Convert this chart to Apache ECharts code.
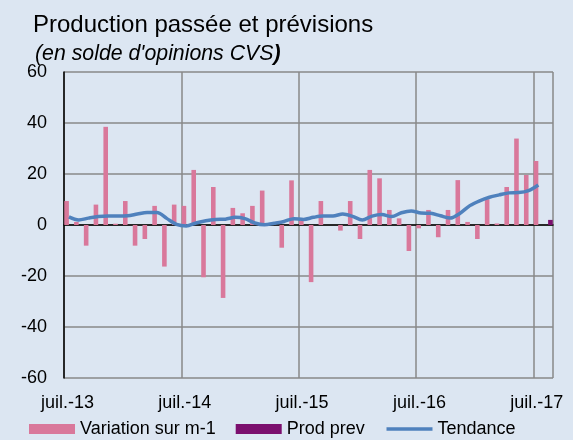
<!DOCTYPE html>
<html>
<head>
<meta charset="utf-8">
<script src="https://cdn.jsdelivr.net/npm/echarts@6/dist/echarts.min.js"></script>
<style>
html,body{margin:0;padding:0;background:#dce6f2;}
#c{width:573px;height:440px;}
</style>
</head>
<body>
<div id="c"></div>
<script>
// Monthly categories, juil.-13 .. août-17
const categories = ['juil.-13','août-13','sept.-13','oct.-13','nov.-13','déc.-13',
  'janv.-14','févr.-14','mars-14','avr.-14','mai-14','juin-14',
  'juil.-14','août-14','sept.-14','oct.-14','nov.-14','déc.-14',
  'janv.-15','févr.-15','mars-15','avr.-15','mai-15','juin-15',
  'juil.-15','août-15','sept.-15','oct.-15','nov.-15','déc.-15',
  'janv.-16','févr.-16','mars-16','avr.-16','mai-16','juin-16',
  'juil.-16','août-16','sept.-16','oct.-16','nov.-16','déc.-16',
  'janv.-17','févr.-17','mars-17','avr.-17','mai-17','juin-17',
  'juil.-17','août-17'];

const variation = [9.4, 1.2, -8.1, 8, 38.5, 0.5, 9.4, -8.1, -5.5, 7.5, -16.3, 8,
  7.5, 21.6, -20.5, 14.9, -28.6, 6.7, 4.6, 7.5, 13.5, 0, -8.9, 17.5,
  1.6, -22.4, 9.4, 0, -2.2, 9.4, -5.5, 21.6, 18.3, 5.9, 2.6, -10.2,
  -1.3, 5.9, -4.8, 5.9, 17.6, 1.2, -5.5, 10.1, 0.6, 14.9, 33.9, 19.6,
  25.1, null];

const prodPrev = [null, null, null, null, null, null, null, null, null, null, null, null,
  null, null, null, null, null, null, null, null, null, null, null, null,
  null, null, null, null, null, null, null, null, null, null, null, null,
  null, null, null, null, null, null, null, null, null, null, null, null,
  null, 2.0];

const tendance = [3.2, 2.0, 2.7, 3.3, 3.5, 3.5, 3.6, 4.3, 4.9, 4.9, 2.6, 0.2,
  -0.4, 0.8, 1.7, 2.2, 2.3, 3.0, 2.5, 0.8, 0.1, 0.7, 1.4, 2.5,
  2.2, 3.0, 3.5, 3.5, 4.3, 3.4, 2.0, 3.5, 4.1, 3.3, 4.8, 5.5,
  4.7, 4.6, 3.6, 2.7, 4.6, 7.6, 9.5, 10.9, 11.8, 12.6, 12.7, 13.5,
  15.7, null];

// Tick labels shown: every 12th month (juil.)
const xTickLabels = ['juil.-13', 'juil.-14', 'juil.-15', 'juil.-16', 'juil.-17'];

const FONT = 'Liberation Sans, Arial, sans-serif';
const chart = echarts.init(document.getElementById('c'), null, {renderer: 'canvas'});

chart.setOption({
  backgroundColor: '#dce6f2',
  animation: false,
  title: [
    {
      text: 'Production passée et prévisions',
      left: 33, top: 13, padding: 0,
      textStyle: {fontFamily: FONT, fontSize: 24, fontWeight: 'normal', color: '#000'}
    },
    {
      text: "(en solde d'opinions CVS{b|)}",
      left: 35, top: 44, padding: 0,
      textStyle: {fontFamily: FONT, fontSize: 21.3, fontStyle: 'italic', fontWeight: 'normal', color: '#000',
        rich: {b: {fontFamily: FONT, fontSize: 21.3, fontStyle: 'italic', fontWeight: 'bold', color: '#000'}}}
    }
  ],
  grid: {left: 64, right: 20, top: 72, bottom: 62, containLabel: false},
  legend: {
    left: 29, top: 420, padding: 0,
    itemWidth: 46, itemHeight: 10, itemGap: 20,
    textStyle: {fontFamily: FONT, fontSize: 18, color: '#000', padding: [2, 0, 0, 0]},
    data: [
      {name: 'Variation sur m-1', icon: 'rect'},
      {name: 'Prod prev', icon: 'rect'},
      {name: 'Tendance', itemStyle: {color: 'rgba(0,0,0,0)', borderWidth: 0, opacity: 0},
        lineStyle: {color: '#4f81bd', width: 3.5}}
    ]
  },
  xAxis: [
    {
      type: 'category',
      data: categories,
      boundaryGap: true,
      axisLine: {onZero: true, lineStyle: {color: '#000', width: 1.5}},
      axisTick: {show: false},
      axisLabel: {show: false},
      splitLine: {show: true, interval: function (i) { return i % 12 === 0; }, lineStyle: {color: '#888', width: 1.5}}
    },
    {
      type: 'category',
      data: categories,
      boundaryGap: true,
      position: 'bottom',
      axisLine: {show: false, onZero: false},
      axisTick: {show: false},
      splitLine: {show: false},
      axisLabel: {
        show: true,
        interval: function (i, v) { return xTickLabels.indexOf(v) >= 0; },
        margin: 16.5, padding: [0, 3, 0, 0],
        fontFamily: FONT, fontSize: 18, color: '#000'
      }
    }
  ],
  yAxis: {
    type: 'value',
    min: -60, max: 60, interval: 20,
    axisLine: {show: true, lineStyle: {color: '#000', width: 1.5}},
    axisTick: {show: false},
    axisLabel: {margin: 17, fontFamily: FONT, fontSize: 18, color: '#000'},
    splitLine: {show: true, lineStyle: {color: '#888', width: 1.5}}
  },
  series: [
    {
      name: 'Variation sur m-1', type: 'bar', xAxisIndex: 0,
      data: variation,
      itemStyle: {color: '#d9789b'},
      barGap: '0%', barCategoryGap: '6%'
    },
    {
      name: 'Prod prev', type: 'bar', xAxisIndex: 0,
      data: prodPrev,
      itemStyle: {color: '#7b0f6e'}
    },
    {
      name: 'Tendance', type: 'line', xAxisIndex: 0,
      data: tendance,
      symbol: 'none', smooth: 0.3,
      lineStyle: {color: '#4f81bd', width: 3.5},
      itemStyle: {color: '#4f81bd'},
      z: 5
    }
  ]
});
</script>
</body>
</html>
